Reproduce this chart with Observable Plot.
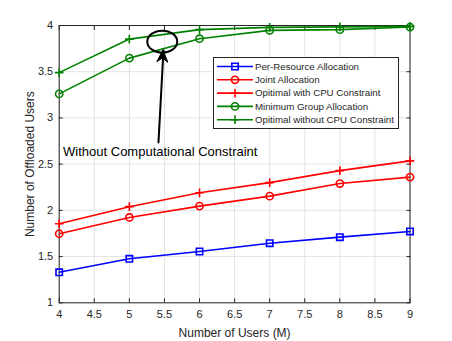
<!DOCTYPE html>
<html>
<head>
<meta charset="utf-8">
<script src="https://cdn.jsdelivr.net/npm/d3@7"></script>
<script src="https://cdn.jsdelivr.net/npm/@observablehq/plot@0.6"></script>
<style>
  html, body { margin: 0; padding: 0; background: #fff; }
  #chart { position: relative; width: 452px; height: 341px; }
</style>
</head>
<body>
<div id="chart"></div>
<script>
const users = [4, 5, 6, 7, 8, 9];
const perResource = [1.33, 1.476, 1.555, 1.645, 1.71, 1.772];
const jointAlloc = [1.747, 1.923, 2.046, 2.154, 2.29, 2.36];
const optWithCPU = [1.855, 2.04, 2.19, 2.30, 2.43, 2.535];
const minGroup = [3.26, 3.647, 3.857, 3.947, 3.955, 3.983];
const optWithoutCPU = [3.49, 3.853, 3.955, 3.98, 3.985, 3.99];
const seriesNames = ["Per-Resource Allocation", "Joint Allocation", "Opitimal with CPU Constraint", "Minimum Group Allocation", "Opitimal without CPU Constraint"];
const seriesValues = [perResource, jointAlloc, optWithCPU, minGroup, optWithoutCPU];
const seriesColors = ["#0000ff", "#ff0000", "#ff0000", "#008000", "#008000"];
const seriesSymbols = ["square", "circle", "plus", "circle", "plus"];
const xTicks = [4, 4.5, 5, 5.5, 6, 6.5, 7, 7.5, 8, 8.5, 9];
const yTicks = [1, 1.5, 2, 2.5, 3, 3.5, 4];
const xLabel = "Number of Users (M)";
const yLabel = "Number of Offloaded Users";
const annotationText = "Without Computational Constraint";
const arrowSpec = {x1: 5.415, y1: 2.735, x2: 5.486, y2: 3.73};

const rows = [];
seriesNames.forEach((name, i) => users.forEach((u, j) => rows.push({series: name, x: u, y: seriesValues[i][j], idx: i})));

const symbolR = {square: 3.6, circle: 3.6, plus: 2.9};
const font = "'Liberation Sans', Arial, Helvetica, sans-serif";
const fmt = d => String(d);
const marks = [
  Plot.gridX(xTicks, {stroke: "#e3e3e3", strokeOpacity: 1}),
  Plot.gridY(yTicks, {stroke: "#e3e3e3", strokeOpacity: 1}),
  Plot.frame({stroke: "#262626", strokeWidth: 1}),
  Plot.axisX(xTicks, {anchor: "bottom", tickSize: -4, tickPadding: 11, tickFormat: fmt, fill: "#262626", stroke: "#262626", fontSize: 11, label: null}),
  Plot.axisX(xTicks, {anchor: "top", tickSize: -4, tickFormat: () => "", stroke: "#262626", label: null}),
  Plot.axisY(yTicks, {anchor: "left", tickSize: -4, tickPadding: 10, tickFormat: fmt, fill: "#262626", stroke: "#262626", fontSize: 11, label: null}),
  Plot.axisY(yTicks, {anchor: "right", tickSize: -4, tickFormat: () => "", stroke: "#262626", label: null}),
  Plot.text([xLabel], {frameAnchor: "bottom", dy: 34, text: d => d, fontSize: 12, fill: "#262626"}),
  Plot.text([yLabel], {frameAnchor: "left", dx: -29, rotate: -90, textAnchor: "middle", lineAnchor: "middle", text: d => d, fontSize: 12, fill: "#262626"})
];
seriesNames.forEach((name, i) => {
  const d = rows.filter(r => r.idx === i);
  marks.push(Plot.line(d, {x: "x", y: "y", stroke: seriesColors[i], strokeWidth: 1.6}));
  marks.push(Plot.dot(d, {x: "x", y: "y", stroke: seriesColors[i], symbol: () => seriesSymbols[i], r: symbolR[seriesSymbols[i]], strokeWidth: 1.6, fill: "none"}));
});
marks.push(Plot.text([annotationText], {x: 4.055, y: 2.63, text: d => d, textAnchor: "start", fontSize: 13, fill: "#000"}));
marks.push(Plot.arrow([arrowSpec], {x1: "x1", y1: "y1", x2: "x2", y2: "y2", stroke: "#000", strokeWidth: 2, headLength: 0}));

const plot = Plot.plot({
  width: 452, height: 341,
  marginLeft: 58.7, marginRight: 42.5, marginTop: 25, marginBottom: 38.7,
  x: {domain: [4, 9]},
  y: {domain: [1, 4]},
  symbol: {type: "identity"},
  style: {fontFamily: font, fontSize: "11px", background: "#fff", color: "#262626"},
  marks
});
document.getElementById("chart").appendChild(plot);

const sx = plot.scale("x"), sy = plot.scale("y");
const svg = d3.select(plot);
// ellipse annotation
svg.append("ellipse")
  .attr("cx", sx.apply(5.476)).attr("cy", sy.apply(3.82))
  .attr("rx", 15).attr("ry", 11)
  .attr("fill", "none").attr("stroke", "#000").attr("stroke-width", 2);
// filled "vback" arrow head
{
  const tx = sx.apply(arrowSpec.x2), ty = sy.apply(arrowSpec.y2);
  const bx = sx.apply(arrowSpec.x1), by = sy.apply(arrowSpec.y1);
  const len = Math.hypot(tx - bx, ty - by);
  const ux = (tx - bx) / len, uy = (ty - by) / len;
  const px = -uy, py = ux;
  const L = 12, W = 5.5, notch = 8;
  const pts = [
    [tx, ty],
    [tx - ux * L + px * W, ty - uy * L + py * W],
    [tx - ux * notch, ty - uy * notch],
    [tx - ux * L - px * W, ty - uy * L - py * W]
  ];
  svg.append("path").attr("d", "M" + pts.map(p => p.join(",")).join("L") + "Z")
    .attr("fill", "#000").attr("stroke", "#000").attr("stroke-width", 1).attr("stroke-linejoin", "miter");
}

// legend
const lg = svg.append("g").attr("transform", "translate(213,57)").attr("font-family", font).attr("text-anchor", "start");
lg.append("rect").attr("x", 0.5).attr("y", 0.5).attr("width", 185).attr("height", 71)
  .attr("fill", "#fff").attr("stroke", "#262626").attr("stroke-width", 1);
seriesNames.forEach((name, i) => {
  const cy = 9.5 + i * 13.3;
  lg.append("line").attr("x1", 4).attr("x2", 40).attr("y1", cy).attr("y2", cy)
    .attr("stroke", seriesColors[i]).attr("stroke-width", 1.6);
  const sym = {square: d3.symbolSquare, circle: d3.symbolCircle, plus: d3.symbolPlus}[seriesSymbols[i]];
  const r = symbolR[seriesSymbols[i]];
  lg.append("path").attr("d", d3.symbol(sym, Math.PI * r * r)())
    .attr("transform", `translate(22,${cy})`)
    .attr("fill", "none").attr("stroke", seriesColors[i]).attr("stroke-width", 1.6);
  lg.append("text").attr("x", 42).attr("y", cy).attr("dy", "0.35em")
    .attr("font-size", 9.7).attr("fill", "#262626").attr("text-anchor", "start").text(name);
});
</script>
</body>
</html>
